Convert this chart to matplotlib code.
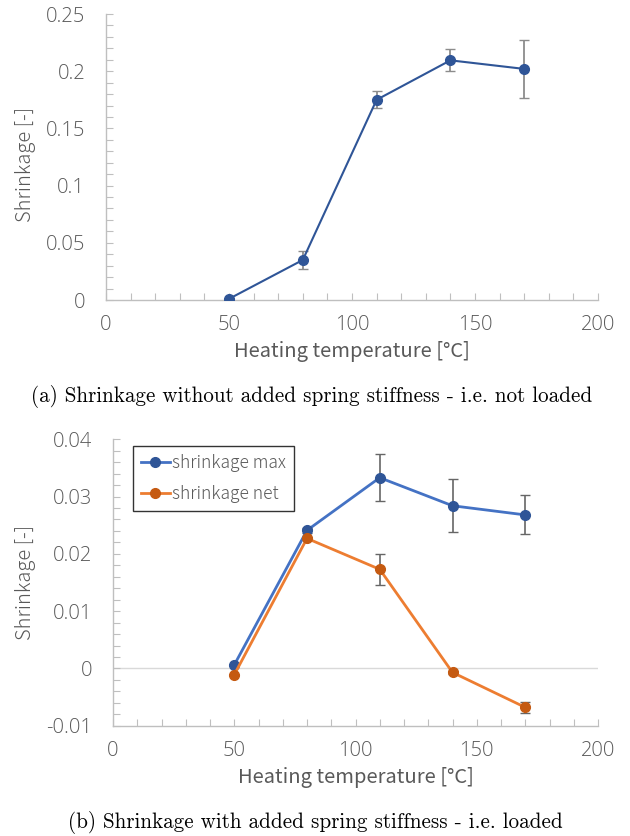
import matplotlib
matplotlib.use("Agg")
import matplotlib.pyplot as plt
from matplotlib.ticker import MultipleLocator, FuncFormatter

# ---- data ----
temps = [50, 80, 110, 140, 170]
shrink_unloaded = [0.001, 0.035, 0.175, 0.2095, 0.202]
shrink_unloaded_err = [0.0, 0.008, 0.0075, 0.0095, 0.025]

shrink_max = [0.0006, 0.0241, 0.0333, 0.0284, 0.0268]
shrink_max_err = [0.0, 0.0004, 0.0041, 0.0046, 0.0034]
shrink_net = [-0.0011, 0.0227, 0.0173, -0.0007, -0.0068]
shrink_net_err = [0.0, 0.0003, 0.0027, 0.0002, 0.0009]

top_yticks = [0, 0.05, 0.1, 0.15, 0.2, 0.25]
bot_yticks = [-0.01, 0, 0.01, 0.02, 0.03, 0.04]
xticks = [0, 50, 100, 150, 200]

xlabel = "Heating temperature [°C]"
ylabel = "Shrinkage [-]"
cap_a = "(a) Shrinkage without added spring stiffness - i.e. not loaded"
cap_b = "(b) Shrinkage with added spring stiffness - i.e. loaded"
legend_labels = ["shrinkage max", "shrinkage net"]

# ---- style ----
W, H = 630, 836
fig = plt.figure(figsize=(W / 100, H / 100), dpi=100)
plt.rcParams['font.family'] = ['Noto Sans CJK JP', 'DejaVu Sans']
plt.rcParams['font.weight'] = 'light'
txt_col = "#595959"
axis_col = "#BFBFBF"
fs = 14.5
tick_font = ['Open Sans', 'DejaVu Sans']


def fmt(v, pos):
    s = ("%.2f" % v).rstrip("0").rstrip(".")
    if s == "-0":
        s = "0"
    return s


def style_axes(ax, xminor, yminor):
    for s in ["top", "right"]:
        ax.spines[s].set_visible(False)
    for s in ["left", "bottom"]:
        ax.spines[s].set_color(axis_col)
        ax.spines[s].set_linewidth(1.0)
    ax.xaxis.set_minor_locator(MultipleLocator(xminor))
    ax.yaxis.set_minor_locator(MultipleLocator(yminor))
    ax.tick_params(which="both", direction="in", length=5, color=axis_col, width=0.8)
    ax.tick_params(axis="y", which="major", pad=15, labelsize=fs, labelcolor=txt_col)
    ax.tick_params(axis="x", which="major", pad=11, labelsize=fs, labelcolor=txt_col)
    ax.yaxis.set_major_formatter(FuncFormatter(fmt))
    for lab in ax.get_xticklabels() + ax.get_yticklabels():
        lab.set_family(tick_font)
        lab.set_weight("light")


# ---- top chart ----
ax1 = fig.add_axes([106 / W, 1 - 300 / H, 492 / W, 286 / H])
ax1.errorbar(temps, shrink_unloaded, yerr=shrink_unloaded_err, fmt="none",
             ecolor="#8C8C8C", elinewidth=1.3, capsize=3.5, capthick=1.0, zorder=2)
ax1.plot(temps, shrink_unloaded, "-o", color="#2F5597", lw=1.5, ms=7, zorder=3)
ax1.set_xlim(0, 200)
ax1.set_ylim(0, 0.25)
ax1.set_xticks(xticks)
ax1.set_yticks(top_yticks)
style_axes(ax1, 10, 0.01)
ax1.set_xlabel(xlabel, fontsize=fs, color=txt_col, labelpad=4)
fig.text(25 / W, 1 - 165 / H, ylabel, rotation=90, ha="center", va="center",
         fontsize=fs, color=txt_col)

# ---- bottom chart ----
ax2 = fig.add_axes([113 / W, 1 - 725.7 / H, 485 / W, 286.4 / H])
ax2.axhline(0, color="#D9D9D9", lw=1.0, zorder=1)
ax2.errorbar(temps, shrink_max, yerr=shrink_max_err, fmt="none",
             ecolor="#666666", elinewidth=1.2, capsize=3.5, capthick=1.0, zorder=2)
ax2.errorbar(temps, shrink_net, yerr=shrink_net_err, fmt="none",
             ecolor="#666666", elinewidth=1.2, capsize=3.5, capthick=1.0, zorder=2)
ax2.plot(temps, shrink_max, "-o", color="#4472C4", mfc="#2F5597", mec="#2F5597",
         lw=2, ms=7, zorder=3, label=legend_labels[0])
ax2.plot(temps, shrink_net, "-o", color="#ED7D31", mfc="#C55A11", mec="#C55A11",
         lw=2, ms=7, zorder=3, label=legend_labels[1])
ax2.set_xlim(0, 200)
ax2.set_ylim(-0.01, 0.04)
ax2.set_xticks(xticks)
ax2.set_yticks(bot_yticks)
style_axes(ax2, 10, 0.002)
ax2.set_xlabel(xlabel, fontsize=fs, color=txt_col, labelpad=4)
fig.text(25 / W, 1 - 583 / H, ylabel, rotation=90, ha="center", va="center",
         fontsize=fs, color=txt_col)
leg = ax2.legend(loc="upper left", bbox_to_anchor=(0.041, 0.977), fontsize=12.5,
                 frameon=True, fancybox=False, edgecolor="black", handlelength=1.7,
                 handletextpad=0.1, borderpad=0.45, labelspacing=0.75, borderaxespad=0)
leg.get_frame().set_linewidth(1.0)
for t in leg.get_texts():
    t.set_color(txt_col)

# ---- captions ----
fig.text(312 / W, 1 - 397 / H, cap_a, ha="center", va="center",
         fontsize=15.2, family="cmr10", weight="normal", color="black")
fig.text(315 / W, 1 - 822 / H, cap_b, ha="center", va="center",
         fontsize=15.2, family="cmr10", weight="normal", color="black")

fig.savefig("out.png", dpi=100)
